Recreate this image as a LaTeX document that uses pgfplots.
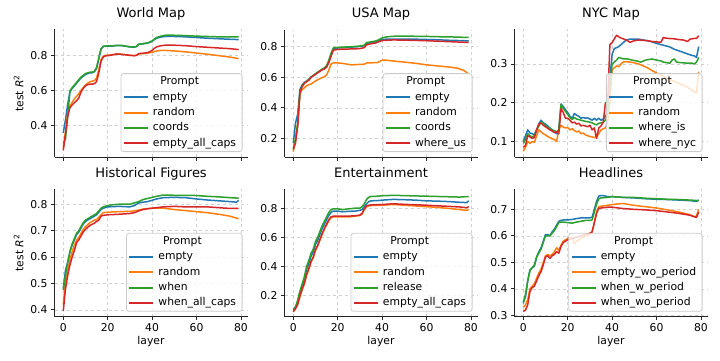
\documentclass[border=0pt]{standalone}
\usepackage{pgfplots}
\pgfplotsset{compat=1.18}
\usepackage{fontspec}
\setmainfont{DejaVu Sans}
\definecolor{tabblue}{HTML}{1F77B4}
\definecolor{taborange}{HTML}{FF7F0E}
\definecolor{tabgreen}{HTML}{2CA02C}
\definecolor{tabred}{HTML}{D62728}
\newsavebox\lbox
\newlength\legoff
\setlength\legoff{29.7pt}
\newcommand\legtitle[1]{\sbox\lbox{#1}\hspace*{-\legoff}\makebox[\dimexpr\wd\lbox+\legoff\relax][c]{Prompt}}
\pgfplotsset{
 panel/.style={
  scale only axis, width=193pt, height=127.5pt,
  xmin=-3.95, xmax=82.95,
  axis lines*=left, axis line style={-, line width=0.8pt, black!85},
  tick align=outside, major tick length=3.5pt, tick style={line width=0.8pt, black!85},
  grid=major, major grid style={dashed, black!18, line width=0.6pt},
  xtick={0,20,40,60,80},
  scaled y ticks=false,
  /pgf/number format/assume math mode=true,
  tick label style={font=\fontsize{10.8}{12}\selectfont},
  y tick label style={/pgf/number format/.cd, fixed, fixed zerofill, precision=1, /tikz/.cd},
  title style={font=\fontsize{13}{15}\selectfont, at={(0.5,1)}, anchor=base, yshift=6pt},
  every axis x label/.style={at={(rel axis cs:0.5,0)}, anchor=base, yshift=-27.3pt, font=\fontsize{10.8}{12}\selectfont},
  every axis y label/.style={at={(rel axis cs:0,0.5)}, xshift=-31.2pt, rotate=90, anchor=base, font=\fontsize{10.8}{12}\selectfont},
  no markers,
  every axis plot/.append style={line width=1.5pt, line join=round},
  legend cell align=left,
  legend style={at={(1,0)}, anchor=south east, xshift=-5pt, yshift=5pt,
    draw=black!20, line width=0.8pt, rounded corners=2.5pt,
    fill=white, fill opacity=0.8, draw opacity=1, text opacity=1,
    font=\fontsize{10.8}{13}\selectfont, inner xsep=2pt, inner ysep=2pt, row sep=2.5pt,
    nodes={inner xsep=4pt, inner ysep=1pt, text height=8.2pt, text depth=2.6pt}},
  legend image code/.code={\draw[##1, line width=2pt] (0pt,0pt) -- (24pt,0pt);},
 }
}
\begin{document}
\begin{tikzpicture}
\useasboundingbox (0,0) rectangle (720pt,360pt);
% ---------------- World Map
\begin{axis}[panel, at={(54.5pt,203pt)}, anchor=south west,
  ymin=0.217, ymax=0.948, ytick={0.4,0.6,0.8}, xticklabels={},
  title={World Map}, ylabel={test \textit{R}\textsuperscript{2}}]
\addlegendimage{empty legend}\addlegendentry{\legtitle{empty\_all\_caps}}
\addplot[tabblue] coordinates {(0,0.355)(1,0.43)(2,0.52)(3,0.59)(4,0.61)(5,0.625)(6,0.64)(7,0.655)(8,0.67)(9,0.68)(10,0.69)(11,0.695)(12,0.70)(13,0.70)(14,0.705)(15,0.725)(16,0.78)(17,0.835)(18,0.85)(19,0.852)(20,0.853)(22,0.853)(24,0.856)(26,0.856)(28,0.852)(30,0.848)(32,0.847)(33,0.85)(34,0.863)(36,0.866)(38,0.87)(40,0.88)(41,0.89)(42,0.898)(44,0.905)(46,0.908)(48,0.909)(50,0.908)(55,0.906)(60,0.902)(65,0.898)(70,0.895)(75,0.892)(79,0.89)};
\addlegendentry{empty}
\addplot[taborange] coordinates {(0,0.27)(1,0.36)(2,0.47)(3,0.51)(4,0.53)(5,0.55)(6,0.565)(7,0.58)(8,0.6)(9,0.615)(10,0.63)(11,0.64)(12,0.648)(13,0.652)(14,0.655)(15,0.67)(16,0.72)(17,0.775)(18,0.795)(19,0.8)(20,0.8)(22,0.803)(24,0.808)(26,0.806)(28,0.803)(30,0.8)(32,0.798)(33,0.8)(34,0.808)(36,0.81)(38,0.812)(40,0.818)(42,0.825)(44,0.828)(46,0.828)(50,0.825)(55,0.82)(60,0.813)(65,0.806)(70,0.798)(75,0.79)(79,0.781)};
\addlegendentry{random}
\addplot[tabgreen] coordinates {(0,0.295)(1,0.32)(2,0.45)(3,0.595)(4,0.615)(5,0.63)(6,0.645)(7,0.66)(8,0.675)(9,0.685)(10,0.695)(11,0.7)(12,0.703)(13,0.703)(14,0.708)(15,0.73)(16,0.785)(17,0.838)(18,0.852)(19,0.853)(20,0.854)(22,0.854)(24,0.857)(26,0.857)(28,0.853)(30,0.849)(32,0.848)(33,0.851)(34,0.864)(36,0.867)(38,0.871)(40,0.882)(41,0.893)(42,0.902)(44,0.91)(46,0.915)(48,0.916)(50,0.915)(55,0.913)(60,0.91)(65,0.908)(70,0.906)(75,0.905)(79,0.905)};
\addlegendentry{coords}
\addplot[tabred] coordinates {(0,0.255)(1,0.35)(2,0.45)(3,0.5)(4,0.515)(5,0.528)(6,0.54)(7,0.555)(8,0.59)(9,0.61)(10,0.625)(11,0.632)(12,0.635)(13,0.635)(14,0.637)(15,0.65)(16,0.7)(17,0.765)(18,0.79)(19,0.797)(20,0.798)(22,0.802)(24,0.807)(26,0.806)(28,0.803)(30,0.8)(32,0.798)(33,0.8)(34,0.81)(36,0.812)(38,0.815)(40,0.828)(41,0.84)(42,0.848)(44,0.855)(46,0.858)(50,0.858)(55,0.855)(60,0.85)(65,0.846)(70,0.842)(75,0.838)(79,0.833)};
\addlegendentry{empty\_all\_caps}
\end{axis}
% ---------------- USA Map
\begin{axis}[panel, at={(284.5pt,203pt)}, anchor=south west,
  ymin=0.08, ymax=0.91, ytick={0.2,0.4,0.6,0.8}, xticklabels={},
  title={USA Map}]
\addlegendimage{empty legend}\addlegendentry{\legtitle{where\_us}}
\addplot[tabblue] coordinates {(0,0.17)(1,0.3)(2,0.36)(3,0.52)(4,0.55)(5,0.565)(6,0.575)(7,0.585)(8,0.6)(9,0.61)(10,0.62)(11,0.63)(12,0.64)(13,0.65)(14,0.655)(15,0.67)(16,0.7)(17,0.745)(18,0.785)(19,0.788)(20,0.79)(22,0.792)(25,0.795)(28,0.797)(30,0.8)(32,0.805)(33,0.82)(35,0.825)(37,0.83)(38,0.835)(40,0.845)(42,0.847)(45,0.848)(50,0.848)(55,0.847)(60,0.845)(65,0.843)(70,0.84)(75,0.838)(79,0.836)};
\addlegendentry{empty}
\addplot[taborange] coordinates {(0,0.115)(1,0.2)(2,0.3)(3,0.49)(4,0.52)(5,0.53)(6,0.545)(7,0.55)(8,0.555)(9,0.565)(10,0.575)(11,0.583)(12,0.59)(13,0.597)(14,0.602)(15,0.615)(16,0.645)(17,0.685)(18,0.693)(20,0.692)(22,0.69)(24,0.685)(26,0.68)(28,0.681)(30,0.683)(32,0.684)(33,0.692)(35,0.693)(38,0.695)(39,0.703)(40,0.71)(42,0.71)(45,0.705)(50,0.698)(55,0.69)(60,0.68)(65,0.673)(70,0.666)(74,0.658)(77,0.642)(79,0.62)};
\addlegendentry{random}
\addplot[tabgreen] coordinates {(0,0.13)(1,0.2)(2,0.3)(3,0.5)(4,0.54)(5,0.56)(6,0.575)(7,0.585)(8,0.6)(9,0.612)(10,0.622)(11,0.632)(12,0.642)(13,0.652)(14,0.66)(15,0.675)(16,0.71)(17,0.755)(18,0.79)(19,0.792)(20,0.793)(22,0.795)(25,0.797)(28,0.8)(30,0.802)(32,0.808)(33,0.825)(35,0.83)(37,0.835)(38,0.84)(40,0.855)(42,0.862)(45,0.866)(50,0.867)(55,0.866)(60,0.865)(65,0.863)(70,0.862)(75,0.86)(79,0.858)};
\addlegendentry{coords}
\addplot[tabred] coordinates {(0,0.13)(1,0.17)(2,0.28)(3,0.5)(4,0.54)(5,0.56)(6,0.57)(7,0.58)(8,0.598)(9,0.608)(10,0.618)(11,0.628)(12,0.638)(13,0.648)(14,0.653)(15,0.665)(16,0.695)(17,0.735)(18,0.775)(19,0.778)(20,0.78)(22,0.782)(25,0.783)(28,0.784)(30,0.786)(32,0.792)(33,0.81)(35,0.817)(37,0.822)(38,0.828)(40,0.838)(42,0.84)(45,0.842)(50,0.841)(55,0.839)(60,0.837)(65,0.834)(70,0.831)(75,0.828)(79,0.826)};
\addlegendentry{where\_us}
\end{axis}
% ---------------- NYC Map
\begin{axis}[panel, at={(514.5pt,203pt)}, anchor=south west,
  ymin=0.06, ymax=0.389, ytick={0.1,0.2,0.3}, xticklabels={},
  title={NYC Map}]
\addlegendimage{empty legend}\addlegendentry{\legtitle{where\_nyc}}
\addplot[tabblue] coordinates {(0,0.10)(1,0.115)(2,0.13)(3,0.122)(4,0.12)(5,0.118)(6,0.13)(7,0.145)(8,0.155)(9,0.148)(10,0.145)(11,0.14)(12,0.135)(13,0.13)(14,0.125)(15,0.12)(16,0.13)(17,0.197)(18,0.19)(19,0.182)(20,0.175)(21,0.165)(22,0.16)(23,0.172)(24,0.168)(25,0.165)(26,0.16)(27,0.162)(28,0.16)(29,0.161)(30,0.158)(31,0.155)(32,0.16)(33,0.155)(34,0.16)(35,0.155)(36,0.158)(37,0.165)(38,0.175)(39,0.26)(40,0.325)(41,0.34)(42,0.342)(43,0.345)(44,0.35)(45,0.355)(46,0.36)(47,0.363)(48,0.364)(50,0.364)(52,0.364)(54,0.362)(56,0.36)(58,0.357)(60,0.353)(62,0.35)(64,0.347)(66,0.344)(68,0.338)(70,0.334)(72,0.33)(74,0.326)(76,0.322)(77,0.321)(78,0.317)(79,0.345)};
\addlegendentry{empty}
\addplot[taborange] coordinates {(0,0.075)(1,0.085)(2,0.1)(3,0.095)(4,0.1)(5,0.098)(6,0.115)(7,0.13)(8,0.125)(9,0.12)(10,0.117)(11,0.113)(12,0.11)(13,0.107)(14,0.105)(15,0.1)(16,0.13)(17,0.142)(18,0.137)(19,0.135)(20,0.136)(21,0.13)(22,0.133)(23,0.128)(24,0.125)(25,0.127)(26,0.12)(27,0.122)(28,0.117)(29,0.115)(30,0.113)(31,0.112)(32,0.11)(33,0.113)(34,0.12)(35,0.13)(36,0.133)(37,0.135)(38,0.15)(39,0.2)(40,0.285)(41,0.29)(42,0.295)(43,0.293)(44,0.3)(45,0.305)(46,0.306)(48,0.305)(50,0.303)(52,0.3)(54,0.295)(56,0.29)(58,0.283)(60,0.277)(62,0.272)(64,0.265)(66,0.26)(68,0.255)(70,0.25)(72,0.245)(74,0.24)(76,0.232)(78,0.225)(79,0.28)};
\addlegendentry{random}
\addplot[tabgreen] coordinates {(0,0.095)(1,0.105)(2,0.12)(3,0.115)(4,0.112)(5,0.115)(6,0.13)(7,0.14)(8,0.15)(9,0.148)(10,0.14)(11,0.137)(12,0.133)(13,0.13)(14,0.128)(15,0.125)(16,0.13)(17,0.195)(18,0.185)(19,0.178)(20,0.17)(21,0.162)(22,0.157)(23,0.162)(24,0.158)(26,0.155)(28,0.152)(30,0.15)(31,0.148)(32,0.145)(33,0.143)(34,0.147)(35,0.148)(36,0.15)(37,0.155)(38,0.17)(39,0.24)(40,0.3)(41,0.305)(42,0.31)(43,0.317)(44,0.315)(45,0.313)(47,0.313)(49,0.31)(51,0.308)(53,0.305)(55,0.31)(57,0.312)(58,0.313)(60,0.31)(62,0.308)(63,0.305)(65,0.303)(66,0.302)(67,0.31)(68,0.313)(69,0.305)(70,0.304)(72,0.303)(74,0.302)(76,0.302)(77,0.3)(78,0.305)(79,0.317)};
\addlegendentry{where\_is}
\addplot[tabred] coordinates {(0,0.085)(1,0.09)(2,0.115)(3,0.112)(4,0.108)(5,0.11)(6,0.13)(7,0.145)(8,0.148)(9,0.142)(10,0.138)(11,0.134)(12,0.13)(13,0.127)(14,0.123)(15,0.125)(16,0.12)(17,0.185)(18,0.175)(19,0.16)(20,0.16)(21,0.155)(22,0.148)(23,0.15)(24,0.145)(25,0.147)(26,0.14)(27,0.142)(28,0.14)(29,0.138)(30,0.142)(31,0.13)(32,0.135)(33,0.108)(34,0.135)(35,0.14)(36,0.15)(37,0.2)(38,0.2)(39,0.35)(40,0.355)(41,0.365)(42,0.374)(43,0.37)(44,0.367)(45,0.365)(47,0.36)(48,0.356)(50,0.36)(52,0.362)(54,0.361)(56,0.36)(58,0.358)(60,0.357)(62,0.356)(63,0.368)(65,0.366)(68,0.365)(70,0.363)(72,0.362)(74,0.358)(75,0.364)(77,0.366)(78,0.366)(79,0.373)};
\addlegendentry{where\_nyc}
\end{axis}
% ---------------- Historical Figures
\begin{axis}[panel, at={(54.5pt,43.3pt)}, anchor=south west,
  ymin=0.374, ymax=0.857, ytick={0.4,0.5,0.6,0.7,0.8},
  title={Historical Figures}, xlabel={layer}, ylabel={test \textit{R}\textsuperscript{2}}]
\addlegendimage{empty legend}\addlegendentry{\legtitle{when\_all\_caps}}
\addplot[tabblue] coordinates {(0,0.48)(1,0.55)(2,0.58)(3,0.62)(4,0.645)(5,0.665)(6,0.685)(7,0.695)(8,0.71)(9,0.725)(10,0.735)(12,0.745)(14,0.755)(15,0.76)(16,0.77)(17,0.78)(18,0.785)(20,0.79)(25,0.792)(30,0.79)(32,0.795)(34,0.805)(36,0.808)(38,0.81)(40,0.815)(42,0.82)(45,0.825)(50,0.826)(55,0.825)(60,0.82)(65,0.816)(70,0.813)(75,0.81)(78,0.808)(79,0.815)};
\addlegendentry{empty}
\addplot[taborange] coordinates {(0,0.42)(1,0.51)(2,0.55)(3,0.59)(4,0.62)(5,0.645)(6,0.665)(7,0.675)(8,0.69)(9,0.705)(10,0.715)(12,0.73)(14,0.74)(15,0.742)(16,0.75)(17,0.76)(18,0.768)(20,0.77)(25,0.772)(30,0.773)(32,0.775)(34,0.778)(36,0.782)(40,0.785)(45,0.785)(50,0.78)(55,0.776)(60,0.772)(65,0.768)(70,0.762)(75,0.755)(79,0.745)};
\addlegendentry{random}
\addplot[tabgreen] coordinates {(0,0.475)(1,0.53)(2,0.58)(3,0.62)(4,0.65)(5,0.67)(6,0.69)(7,0.70)(8,0.715)(9,0.73)(10,0.74)(12,0.75)(14,0.76)(15,0.765)(16,0.775)(17,0.785)(18,0.79)(20,0.795)(22,0.798)(25,0.8)(30,0.8)(32,0.805)(34,0.81)(36,0.818)(38,0.822)(40,0.826)(42,0.83)(45,0.835)(50,0.834)(55,0.834)(60,0.833)(65,0.83)(70,0.828)(75,0.825)(79,0.823)};
\addlegendentry{when}
\addplot[tabred] coordinates {(0,0.395)(1,0.48)(2,0.53)(3,0.57)(4,0.6)(5,0.625)(6,0.655)(7,0.665)(8,0.68)(9,0.695)(10,0.705)(12,0.72)(14,0.728)(15,0.735)(16,0.74)(17,0.755)(18,0.758)(20,0.76)(25,0.762)(30,0.765)(32,0.768)(34,0.775)(36,0.78)(38,0.783)(40,0.785)(45,0.79)(50,0.792)(55,0.79)(60,0.79)(65,0.79)(70,0.787)(75,0.784)(79,0.784)};
\addlegendentry{when\_all\_caps}
\end{axis}
% ---------------- Entertainment
\begin{axis}[panel, at={(284.5pt,43.3pt)}, anchor=south west,
  ymin=0.055, ymax=0.93, ytick={0.2,0.4,0.6,0.8},
  title={Entertainment}, xlabel={layer}]
\addlegendimage{empty legend}\addlegendentry{\legtitle{empty\_all\_caps}}
\addplot[tabblue] coordinates {(0,0.11)(1,0.12)(2,0.16)(3,0.22)(4,0.27)(5,0.31)(6,0.38)(7,0.42)(8,0.47)(9,0.5)(10,0.55)(11,0.58)(12,0.62)(13,0.66)(14,0.69)(15,0.72)(16,0.75)(17,0.77)(18,0.78)(20,0.78)(22,0.775)(25,0.778)(28,0.78)(30,0.785)(31,0.79)(32,0.81)(33,0.83)(34,0.845)(35,0.85)(38,0.852)(40,0.855)(45,0.86)(50,0.858)(55,0.855)(60,0.85)(65,0.848)(70,0.845)(75,0.84)(78,0.838)(79,0.85)};
\addlegendentry{empty}
\addplot[taborange] coordinates {(0,0.09)(1,0.11)(2,0.14)(3,0.19)(4,0.24)(5,0.28)(6,0.34)(7,0.38)(8,0.43)(9,0.46)(10,0.51)(11,0.54)(12,0.58)(13,0.62)(14,0.655)(15,0.685)(16,0.715)(17,0.735)(18,0.74)(20,0.74)(25,0.74)(28,0.745)(30,0.75)(31,0.76)(32,0.79)(33,0.81)(34,0.815)(35,0.818)(40,0.82)(45,0.825)(50,0.82)(55,0.815)(60,0.81)(65,0.805)(70,0.798)(75,0.79)(78,0.785)(79,0.79)};
\addlegendentry{random}
\addplot[tabgreen] coordinates {(0,0.1)(1,0.12)(2,0.17)(3,0.23)(4,0.28)(5,0.33)(6,0.4)(7,0.44)(8,0.49)(9,0.52)(10,0.57)(11,0.6)(12,0.64)(13,0.68)(14,0.71)(15,0.74)(16,0.77)(17,0.79)(18,0.795)(20,0.795)(22,0.79)(25,0.795)(28,0.8)(30,0.8)(31,0.81)(32,0.83)(33,0.86)(34,0.875)(35,0.88)(38,0.882)(40,0.885)(45,0.888)(50,0.886)(55,0.884)(60,0.882)(65,0.88)(70,0.878)(75,0.876)(79,0.88)};
\addlegendentry{release}
\addplot[tabred] coordinates {(0,0.09)(1,0.11)(2,0.14)(3,0.2)(4,0.245)(5,0.285)(6,0.345)(7,0.385)(8,0.435)(9,0.465)(10,0.515)(11,0.545)(12,0.585)(13,0.625)(14,0.66)(15,0.69)(16,0.72)(17,0.74)(18,0.745)(20,0.745)(25,0.745)(28,0.748)(30,0.752)(31,0.765)(32,0.795)(33,0.815)(34,0.82)(35,0.822)(40,0.825)(45,0.83)(50,0.826)(55,0.823)(60,0.82)(65,0.816)(70,0.812)(75,0.808)(78,0.803)(79,0.81)};
\addlegendentry{empty\_all\_caps}
\end{axis}
% ---------------- Headlines
\begin{axis}[panel, at={(514.5pt,43.3pt)}, anchor=south west,
  ymin=0.295, ymax=0.776, ytick={0.3,0.4,0.5,0.6,0.7},
  title={Headlines}, xlabel={layer}]
\addlegendimage{empty legend}\addlegendentry{\legtitle{empty\_wo\_period}}
\addplot[tabblue] coordinates {(0,0.35)(1,0.37)(2,0.43)(3,0.47)(4,0.48)(5,0.485)(6,0.52)(7,0.54)(8,0.555)(9,0.58)(10,0.605)(11,0.605)(12,0.6)(13,0.615)(14,0.625)(15,0.64)(16,0.655)(17,0.658)(18,0.66)(20,0.66)(22,0.662)(24,0.665)(26,0.668)(28,0.668)(30,0.668)(31,0.67)(32,0.7)(33,0.73)(34,0.75)(35,0.752)(36,0.752)(38,0.748)(40,0.748)(45,0.745)(50,0.743)(55,0.74)(60,0.738)(65,0.737)(70,0.735)(75,0.733)(78,0.73)(79,0.735)};
\addlegendentry{empty}
\addplot[taborange] coordinates {(0,0.33)(1,0.34)(2,0.36)(3,0.40)(4,0.41)(5,0.42)(6,0.44)(7,0.46)(8,0.475)(9,0.5)(10,0.525)(11,0.53)(12,0.525)(13,0.53)(14,0.54)(15,0.555)(16,0.545)(17,0.565)(18,0.58)(20,0.59)(21,0.595)(22,0.59)(23,0.57)(24,0.58)(26,0.59)(28,0.6)(30,0.605)(31,0.615)(32,0.65)(33,0.69)(34,0.71)(35,0.712)(38,0.715)(40,0.718)(42,0.72)(45,0.722)(50,0.715)(55,0.71)(60,0.705)(65,0.698)(70,0.69)(75,0.68)(77,0.672)(78,0.675)(79,0.7)};
\addlegendentry{empty\_wo\_period}
\addplot[tabgreen] coordinates {(0,0.345)(1,0.38)(2,0.43)(3,0.47)(4,0.48)(5,0.49)(6,0.52)(7,0.535)(8,0.55)(9,0.575)(10,0.6)(11,0.6)(12,0.6)(13,0.61)(14,0.62)(15,0.635)(16,0.65)(17,0.652)(18,0.652)(20,0.65)(22,0.648)(24,0.652)(26,0.655)(28,0.658)(30,0.658)(31,0.66)(32,0.69)(33,0.72)(34,0.74)(35,0.743)(38,0.745)(40,0.748)(45,0.745)(50,0.745)(55,0.742)(60,0.74)(65,0.738)(70,0.737)(75,0.735)(79,0.733)};
\addlegendentry{when\_w\_period}
\addplot[tabred] coordinates {(0,0.315)(1,0.32)(2,0.34)(3,0.39)(4,0.405)(5,0.41)(6,0.43)(7,0.45)(8,0.465)(9,0.49)(10,0.52)(11,0.525)(12,0.515)(13,0.525)(14,0.53)(15,0.54)(16,0.535)(17,0.56)(18,0.575)(20,0.585)(22,0.59)(24,0.595)(26,0.6)(28,0.605)(30,0.61)(31,0.615)(32,0.65)(33,0.685)(34,0.705)(35,0.705)(38,0.708)(40,0.708)(45,0.703)(50,0.7)(55,0.698)(60,0.695)(65,0.69)(70,0.685)(75,0.678)(77,0.672)(78,0.67)(79,0.69)};
\addlegendentry{when\_wo\_period}
\end{axis}
\end{tikzpicture}
\end{document}
